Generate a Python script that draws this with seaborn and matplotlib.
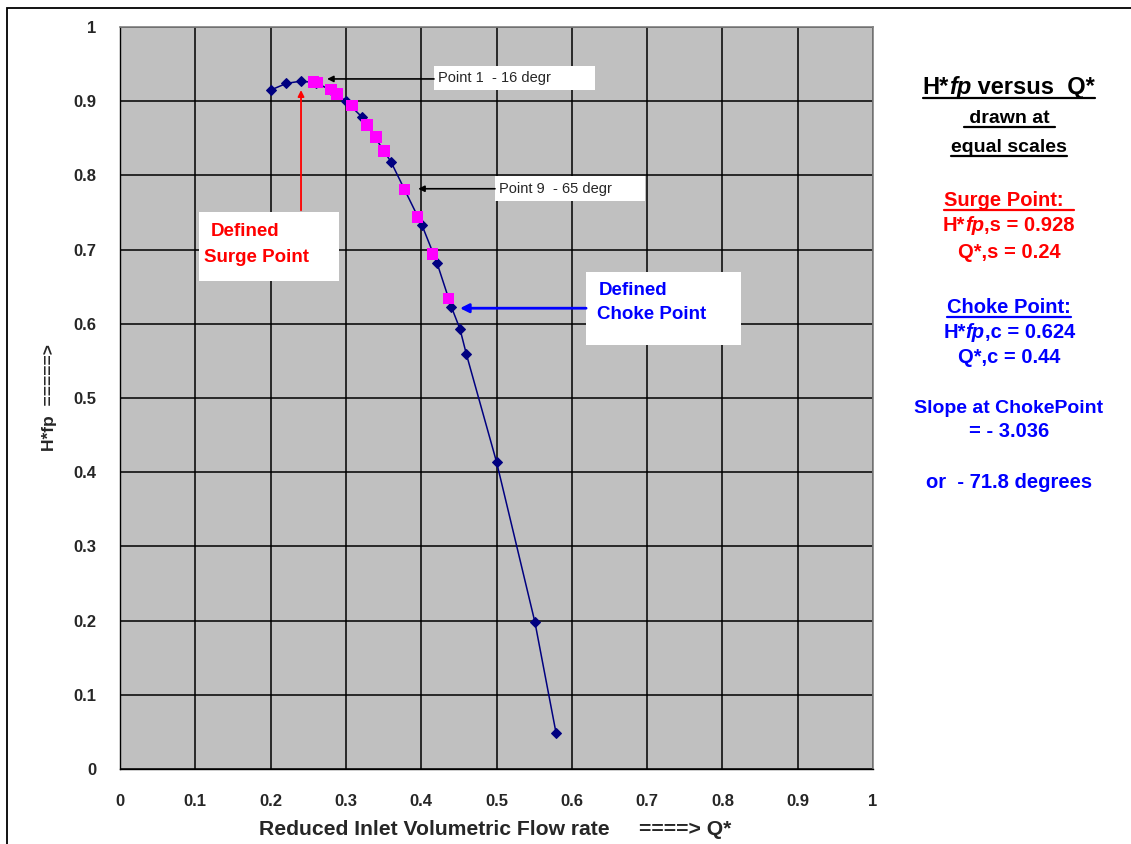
import seaborn as sns
import pandas as pd
import numpy as np
import matplotlib.pyplot as plt
from matplotlib.patches import Rectangle

sns.set_style("white")
plt.rcParams["font.family"] = ["Liberation Sans", "DejaVu Sans"]

# curve with line (navy diamonds)
q_line = [0.20, 0.221, 0.240, 0.260, 0.280, 0.300, 0.321, 0.360, 0.401, 0.421,
          0.440, 0.4515, 0.460, 0.500, 0.551, 0.579]
h_line = [0.915, 0.924, 0.927, 0.925, 0.915, 0.900, 0.879, 0.818, 0.733, 0.682,
          0.623, 0.593, 0.559, 0.414, 0.198, 0.049]

# measured points (magenta squares)
q_pts = [0.257, 0.262, 0.280, 0.288, 0.308, 0.328, 0.340, 0.351, 0.378, 0.395,
         0.415, 0.4365]
h_pts = [0.926, 0.925, 0.916, 0.910, 0.894, 0.868, 0.852, 0.833, 0.781, 0.744,
         0.694, 0.634]

ticks = np.round(np.arange(0, 1.01, 0.1), 1)
tick_labels = ["0", "0.1", "0.2", "0.3", "0.4", "0.5", "0.6", "0.7", "0.8", "0.9", "1"]

navy = "#000080"
pink = "#FF00FF"
W, H = 1131, 844

fig = plt.figure(figsize=(W / 100, H / 100), dpi=100)
ax = fig.add_axes([120 / W, (H - 769) / H, 753 / W, 742 / H])
ax.set_facecolor("#C0C0C0")

line_df = pd.DataFrame({"q": q_line, "h": h_line})
pts_df = pd.DataFrame({"q": q_pts, "h": h_pts})
sns.lineplot(data=line_df, x="q", y="h", sort=False, color=navy, marker="D",
             markersize=5.5, markeredgecolor=navy, linewidth=1.1, ax=ax, zorder=3)
sns.scatterplot(data=pts_df, x="q", y="h", marker="s", s=70, color=pink,
                edgecolor="none", ax=ax, zorder=4)

ax.set_xlim(0, 1)
ax.set_ylim(0, 1)
ax.set_xticks(ticks)
ax.set_yticks(ticks)
ax.set_xticklabels(tick_labels, fontsize=12, fontweight="bold")
ax.set_yticklabels(tick_labels, fontsize=12, fontweight="bold")
ax.grid(True, color="black", linewidth=1.1)
ax.set_axisbelow(True)
ax.tick_params(axis="x", direction="out", length=6, width=1, pad=12, color="black")
ax.tick_params(axis="y", direction="out", length=6, width=1, pad=11, color="black")
for s in ["left", "bottom"]:
    ax.spines[s].set_color("black")
    ax.spines[s].set_linewidth(1)
for s in ["top", "right"]:
    ax.spines[s].set_color("#808080")
    ax.spines[s].set_linewidth(1.2)

ax.set_xlabel("Reduced Inlet Volumetric Flow rate     ====> Q*", fontsize=15.2,
              fontweight="bold", va="center")
ax.set_ylabel("H*fp  =====>", fontsize=12.5, fontweight="bold", va="center")
ax.xaxis.set_label_coords(0.498, -0.0822)
ax.yaxis.set_label_coords(-0.0935, 0.5)

# annotation boxes
ax.add_patch(Rectangle((0.417, 0.915), 0.214, 0.032, facecolor="white",
                       edgecolor="none", zorder=5))
ax.text(0.422, 0.931, "Point 1  - 16 degr", fontsize=10.5, va="center", zorder=6)
ax.annotate("", xy=(0.275, 0.930), xytext=(0.417, 0.930),
            arrowprops=dict(arrowstyle="-|>", color="black", lw=1.2,
                            mutation_scale=9, shrinkA=0, shrinkB=0), zorder=6)

ax.add_patch(Rectangle((0.498, 0.7655), 0.199, 0.0335, facecolor="white",
                       edgecolor="none", zorder=5))
ax.text(0.503, 0.782, "Point 9  - 65 degr", fontsize=10.5, va="center", zorder=6)
ax.annotate("", xy=(0.396, 0.782), xytext=(0.498, 0.782),
            arrowprops=dict(arrowstyle="-|>", color="black", lw=1.2,
                            mutation_scale=9, shrinkA=0, shrinkB=0), zorder=6)

ax.add_patch(Rectangle((0.105, 0.658), 0.186, 0.093, facecolor="white",
                       edgecolor="none", zorder=5))
ax.text(0.121, 0.725, "Defined", fontsize=13.5, fontweight="bold", color="red",
        va="center", zorder=6)
ax.text(0.112, 0.689, "Surge Point", fontsize=13.5, fontweight="bold", color="red",
        va="center", zorder=6)
ax.annotate("", xy=(0.2404, 0.915), xytext=(0.2404, 0.753),
            arrowprops=dict(arrowstyle="-|>", color="red", lw=1.3,
                            mutation_scale=9, shrinkA=0, shrinkB=0), zorder=6)

ax.add_patch(Rectangle((0.619, 0.571), 0.206, 0.099, facecolor="white",
                       edgecolor="none", zorder=5))
ax.text(0.636, 0.6455, "Defined", fontsize=13.5, fontweight="bold", color="#0000FF",
        va="center", zorder=6)
ax.text(0.633, 0.613, "Choke Point", fontsize=13.5, fontweight="bold", color="#0000FF",
        va="center", zorder=6)
ax.annotate("", xy=(0.4515, 0.621), xytext=(0.619, 0.621),
            arrowprops=dict(arrowstyle="-|>", color="#0000FF", lw=2,
                            mutation_scale=13, shrinkA=0, shrinkB=0), zorder=6)

# figure border
fig.patches.append(Rectangle((7 / W, -0.1), 1.2, 1 - 8 / H + 0.1, transform=fig.transFigure,
                             fill=False, edgecolor="black", linewidth=1.3))

# side notes: (baseline px, segments, color, size, underline)
notes = [
    (94, [("H*", "n"), ("fp", "i"), (" versus  Q*", "n")], "black", 17, True),
    (123, [(" drawn at ", "n")], "black", 14, True),
    (152, [("equal scales", "n")], "black", 14, True),
    (206, [("Surge Point:  ", "n")], "red", 14.5, True),
    (231, [("H*", "n"), ("fp", "i"), (",s = 0.928", "n")], "red", 14.5, False),
    (258, [("Q*,s = 0.24", "n")], "red", 14.5, False),
    (313, [("Choke Point:", "n")], "#0000FF", 14.5, True),
    (338, [("H*", "n"), ("fp", "i"), (",c = 0.624", "n")], "#0000FF", 14.5, False),
    (363, [("Q*,c = 0.44", "n")], "#0000FF", 14.5, False),
    (413, [("Slope at ChokePoint", "n")], "#0000FF", 14, False),
    (437, [("= - 3.036", "n")], "#0000FF", 14.5, False),
    (488, [("or  - 71.8 degrees", "n")], "#0000FF", 14.5, False),
]
cx = 1009
renderer = fig.canvas.get_renderer()
for base, segs, col, size, ul in notes:
    objs = []
    for txt, st in segs:
        t = fig.text(0, 1 - base / H, txt, fontsize=size, fontweight="bold",
                     fontstyle="italic" if st == "i" else "normal", color=col,
                     va="baseline", ha="left")
        objs.append(t)
    widths = [o.get_window_extent(renderer).width for o in objs]
    x = cx - sum(widths) / 2
    x0 = x
    for o, w in zip(objs, widths):
        o.set_x(x / W)
        x += w
    if ul:
        yl = 1 - (base + 3.5) / H
        fig.lines.append(plt.Line2D([x0 / W, x / W], [yl, yl], transform=fig.transFigure,
                                    color=col, linewidth=1.6))

fig.savefig("out.png", dpi=100)
